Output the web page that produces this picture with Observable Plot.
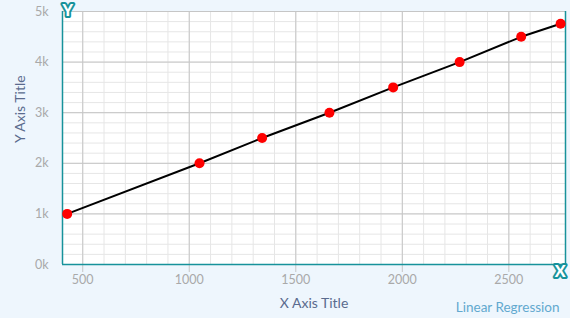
<!DOCTYPE html>
<html>
<head>
<meta charset="utf-8">
<script src="https://cdn.jsdelivr.net/npm/d3@7"></script>
<script src="https://cdn.jsdelivr.net/npm/@observablehq/plot@0.6"></script>
<style>
  html, body { margin: 0; padding: 0; background: #eef6fd; }
  #chart { width: 570px; height: 318px; }
</style>
</head>
<body>
<div id="chart"></div>
<script>
const xValues = [427, 1048, 1342, 1658, 1957, 2269, 2558, 2743];
const yValues = [1000, 2000, 2500, 3000, 3500, 4000, 4500, 4757];
const xTicks = [500, 1000, 1500, 2000, 2500];
const yTicks = [0, 1000, 2000, 3000, 4000, 5000];
const xMinorTicks = d3.range(500, 2800, 100);
const yMinorTicks = d3.range(0, 5001, 200);
const xDomain = [405, 2766];
const yDomain = [0, 5000];
const xTitle = "X Axis Title";
const yTitle = "Y Axis Title";
const caption = "Linear Regression";

const data = xValues.map((x, i) => ({x, y: yValues[i]}));
const teal = "#17929b";
const font = "Lato, 'Open Sans', sans-serif";

const chart = Plot.plot({
  width: 570,
  height: 318,
  marginLeft: 62,
  marginRight: 5,
  marginTop: 11,
  marginBottom: 54,
  style: {background: "#eef6fd", fontFamily: font, overflow: "visible"},
  x: {domain: xDomain},
  y: {domain: yDomain},
  marks: [
    Plot.frame({fill: "white", stroke: null}),
    Plot.gridX(xMinorTicks, {stroke: "#e6e6e6", strokeOpacity: 1}),
    Plot.gridY(yMinorTicks, {stroke: "#e6e6e6", strokeOpacity: 1}),
    Plot.gridX(xTicks, {stroke: "#c6c6c6", strokeOpacity: 1}),
    Plot.gridY(yTicks, {stroke: "#c6c6c6", strokeOpacity: 1}),
    Plot.axisX(xTicks, {tickSize: 8, tickPadding: 3, stroke: "#c6c6c6", fill: "#a9a9a9", fontSize: 12.5, label: null, tickFormat: d => String(d)}),
    Plot.axisY(yTicks, {tickSize: 0, tickPadding: 14, fill: "#a9a9a9", fontSize: 12.5, label: null, tickFormat: d => (d / 1000) + "k"}),
    Plot.ruleX([xDomain[0]], {stroke: teal, strokeWidth: 1.5}),
    Plot.ruleX([xDomain[1]], {stroke: teal, strokeWidth: 1.5}),
    Plot.ruleY([yDomain[0]], {stroke: teal, strokeWidth: 1.5}),
    Plot.line(data, {x: "x", y: "y", stroke: "black", strokeWidth: 2}),
    Plot.dot(data, {x: "x", y: "y", r: 5, fill: "#ff0000", stroke: null}),
    Plot.text(["Y"], {frameAnchor: "top-left", dy: -1, fontSize: 16, fontWeight: 900, fill: "white", stroke: teal, strokeWidth: 4, strokeLinejoin: "round", paintOrder: "stroke", lineAnchor: "middle"}),
    Plot.text(["X"], {frameAnchor: "bottom-right", dx: 0, dy: 7, fontSize: 16, fontWeight: 900, fill: "white", stroke: teal, strokeWidth: 4, strokeLinejoin: "round", paintOrder: "stroke", lineAnchor: "middle"}),
    Plot.text([xTitle], {frameAnchor: "bottom", dy: 39, lineAnchor: "middle", fontSize: 14, fill: "#5a6b8e"}),
    Plot.text([yTitle], {frameAnchor: "left", dx: -42, dy: 5, rotate: -90, lineAnchor: "middle", fontSize: 14, fill: "#5a6b8e"}),
    Plot.text([caption], {frameAnchor: "bottom-right", textAnchor: "end", dx: -6, dy: 43, lineAnchor: "middle", fontSize: 13.5, fill: "#62a9cf"})
  ]
});
document.getElementById("chart").appendChild(chart);
</script>
</body>
</html>
